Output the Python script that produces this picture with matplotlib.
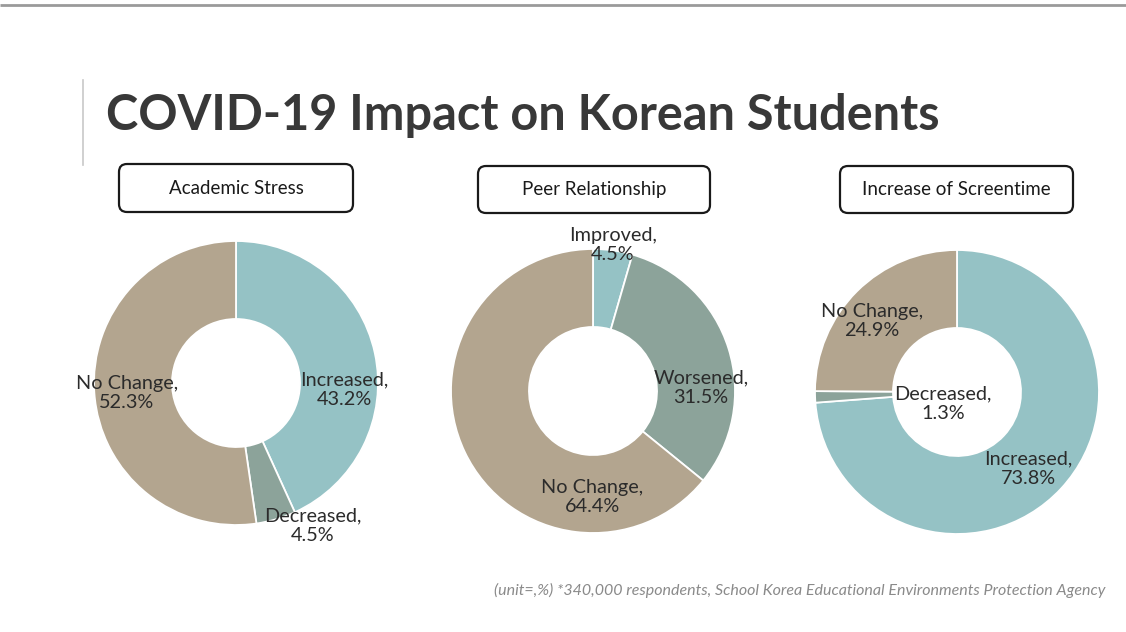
import matplotlib
matplotlib.use("Agg")
import matplotlib.pyplot as plt
from matplotlib.patches import FancyBboxPatch

plt.rcParams['font.family'] = ['Lato', 'DejaVu Sans']

# ---- data -------------------------------------------------------------
chart_titles = ["Academic Stress", "Peer Relationship", "Increase of Screentime"]

stress_labels = ["Increased", "Decreased", "No Change"]
stress_values = [43.2, 4.5, 52.3]

peer_labels = ["Improved", "Worsened", "No Change"]
peer_values = [4.5, 31.5, 64.4]

screen_labels = ["Increased", "Decreased", "No Change"]
screen_values = [73.8, 1.3, 24.9]

title = "COVID-19 Impact on Korean Students"
footnote = ("(unit=,%) *340,000 respondents, School Korea Educational "
            "Environments Protection Agency")

# ---- styling ----------------------------------------------------------
W, H = 1126, 632
colors = ["#95C2C5", "#8CA39A", "#B3A58F"]
text_color = "#2b2b2b"

fig = plt.figure(figsize=(W / 100, H / 100), dpi=100)

# donuts, each on its own axes measured in pixels around its centre
centers = [(236, 383), (593, 391), (957, 392)]
R_out, R_in = 142, 64
series = [(stress_labels, stress_values),
          (peer_labels, peer_values),
          (screen_labels, screen_values)]

for (cx, cy), (labs, vals) in zip(centers, series):
    size = 2 * R_out + 20
    pax = fig.add_axes([(cx - size / 2) / W, 1 - (cy + size / 2) / H,
                        size / W, size / H])
    pax.pie(vals, colors=colors, startangle=90, counterclock=False,
            radius=R_out,
            wedgeprops=dict(width=R_out - R_in, edgecolor="white",
                            linewidth=1.3))
    pax.set_xlim(-size / 2, size / 2)
    pax.set_ylim(-size / 2, size / 2)
    pax.set_aspect("equal")
    pax.axis("off")

# overlay axes in pixel coordinates for all text and decorations
ax = fig.add_axes([0, 0, 1, 1])
ax.set_xlim(0, W)
ax.set_ylim(H, 0)
ax.axis("off")
ax.patch.set_alpha(0)

ax.plot([0, W], [4.5, 4.5], color="#9a9a9a", lw=2.0, solid_capstyle="butt")
ax.plot([83, 83], [80, 165], color="#c8c8c8", lw=1.2)

ax.text(106, 116, title, fontsize=35, fontweight="bold", color="#383838",
        ha="left", va="center")

# label positions (pixel coordinates) per donut
label_pos = [
    [(344, 390), (313, 526), (127, 393)],
    [(613, 245), (701, 388), (592, 497)],
    [(1028, 469), (943, 404), (872, 321)],
]
for (labs, vals), lpos in zip(series, label_pos):
    for lab, v, (lx, ly) in zip(labs, vals, lpos):
        ax.text(lx, ly, f"{lab},\n{v}%", fontsize=14.3, color=text_color,
                ha="center", va="center", linespacing=1.2, zorder=5)

# header boxes above each donut
boxes = [(119, 164, 234, 48), (478, 166, 232, 47), (840, 166, 233, 47)]
for (bx, by, bw, bh), t in zip(boxes, chart_titles):
    p = FancyBboxPatch((bx, by), bw, bh,
                       boxstyle="round,pad=0,rounding_size=8",
                       fc="white", ec="#1a1a1a", lw=1.6)
    ax.add_patch(p)
    ax.text(bx + bw / 2, by + bh / 2, t, fontsize=13.5, color="#1a1a1a",
            ha="center", va="center")

ax.text(1105, 590, footnote, fontsize=11.5, style="italic", color="#8a8a8a",
        ha="right", va="center")

fig.savefig("out.png", dpi=100)
